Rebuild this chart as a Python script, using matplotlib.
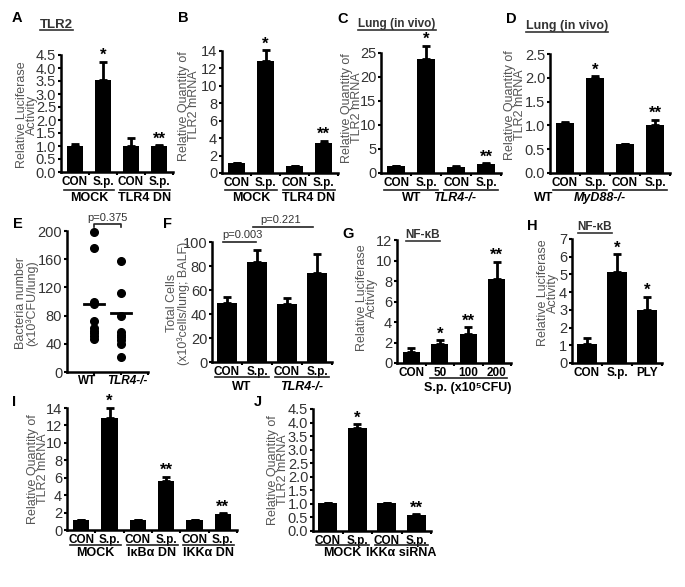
import matplotlib.pyplot as plt
from matplotlib.lines import Line2D
from matplotlib.transforms import blended_transform_factory, offset_copy

plt.rcParams['font.family'] = ['Liberation Sans', 'DejaVu Sans']
plt.rcParams['axes.linewidth'] = 1.8

# ---------------- data ----------------
con_sp = ['CON', 'S.p.', 'CON', 'S.p.']

a_groups = ['MOCK', 'TLR4 DN']
a_vals = [1.0, 3.55, 1.0, 1.0]
a_errs = [0.08, 0.7, 0.3, 0.03]
a_stars = ['', '*', '', '**']

b_groups = ['MOCK', 'TLR4 DN']
b_vals = [1.2, 12.8, 0.8, 3.4]
b_errs = [0.0, 1.3, 0.05, 0.3]
b_stars = ['', '*', '', '**']

c_groups = ['WT', 'TLR4-/-']
c_vals = [1.4, 23.8, 1.3, 1.8]
c_errs = [0.0, 2.7, 0.1, 0.2]
c_stars = ['', '*', '', '**']

d_groups = ['WT', 'MyD88-/-']
d_vals = [1.05, 2.0, 0.6, 1.0]
d_errs = [0.03, 0.03, 0.0, 0.12]
d_stars = ['', '*', '', '**']

e_labels = ['WT', 'TLR4-/-']
e_wt = [198, 176, 100, 97, 72, 62, 58, 55, 51, 47]
e_tlr4 = [158, 112, 80, 57, 53, 50, 46, 40, 21]
e_means = [97, 84]
e_p = 'p=0.375'

f_groups = ['WT', 'TLR4-/-']
f_vals = [49, 83, 48, 74]
f_errs = [5, 10, 5, 16]
f_p = ['p=0.003', 'p=0.221']

g_labels = ['CON', '50', '100', '200']
g_vals = [1.1, 1.9, 2.8, 8.2]
g_errs = [0.4, 0.3, 0.7, 1.7]
g_stars = ['', '*', '**', '**']

h_labels = ['CON', 'S.p.', 'PLY']
h_vals = [1.1, 5.15, 3.0]
h_errs = [0.3, 1.0, 0.75]
h_stars = ['', '*', '*']

i_labels = ['CON', 'S.p.'] * 3
i_groups = ['MOCK', 'IκBα DN', 'IKKα DN']
i_vals = [1.2, 12.8, 1.2, 5.6, 1.2, 1.8]
i_errs = [0.0, 1.25, 0.0, 0.5, 0.0, 0.1]
i_stars = ['', '*', '', '**', '', '**']

j_groups = ['MOCK', 'IKKα siRNA']
j_vals = [1.03, 3.8, 1.03, 0.6]
j_errs = [0.02, 0.15, 0.02, 0.02]
j_stars = ['', '*', '', '**']

# ---------------- figure helpers ----------------
W, H = 685, 587
fig = plt.figure(figsize=(W / 100, H / 100), dpi=100)
titles = []


def panel(l, t, r, b):
    ax = fig.add_axes([l / W, 1 - b / H, (r - l) / W, (b - t) / H])
    for s in ['top', 'right']:
        ax.spines[s].set_visible(False)
    ax.tick_params(axis='y', direction='out', length=2.5, width=1.5, pad=1,
                   labelsize=10.5, labelcolor='#333333')
    ax.tick_params(axis='x', which='major', length=0, pad=3, labelsize=8.5)
    ax.tick_params(axis='x', which='minor', direction='out', length=2.5, width=1.5)
    return ax


def bars(ax, labels, vals, errs, stars, width, yticks, fmt='{:g}'):
    n = len(vals)
    x = [i + 0.5 for i in range(n)]
    bc = ax.bar(x, vals, width=width, color='black')
    for p in bc.patches:
        p.set_clip_on(False)
    eb = ax.errorbar(x, vals, yerr=[[0] * n, errs], fmt='none', ecolor='black',
                     elinewidth=2, capsize=3, capthick=2)
    for art in list(eb.lines[1]) + list(eb.lines[2]):
        art.set_clip_on(False)
    for xi, v, e, s in zip(x, vals, errs, stars):
        if s:
            ax.annotate(s, (xi, v + e), xytext=(0, -1), textcoords='offset points',
                        ha='center', va='bottom', fontsize=12, fontweight='bold',
                        annotation_clip=False)
    ax.set_xlim(0, n)
    ax.set_ylim(yticks[0], yticks[-1])
    ax.set_yticks(yticks, [fmt.format(v) for v in yticks])
    ax.set_xticks(x, labels, fontweight='bold')
    ax.set_xticks(range(1, n + 1), minor=True)
    return x


def groups(ax, names, centers, spans, line_dy, text_dy, italic=False, size=9):
    trans = blended_transform_factory(ax.transData, ax.transAxes)
    lt = offset_copy(trans, fig=fig, y=-line_dy, units='dots')
    tt = offset_copy(trans, fig=fig, y=-text_dy, units='dots')
    for (x0, x1) in spans:
        ax.add_line(Line2D([x0, x1], [0, 0], transform=lt, color='#222222',
                           lw=1.2, clip_on=False))
    for k, (name, c) in enumerate(zip(names, centers)):
        it = italic and k == 1
        ax.text(c, 0, name, transform=tt, ha='center', va='center', fontsize=size,
                fontweight='bold', fontstyle='italic' if it else 'normal')


def letter(x, y, s):
    fig.text(x / W, 1 - y / H, s, ha='center', va='center', fontsize=10.5,
             fontweight='bold')


def ylab(x, y, s, size=9):
    fig.text(x / W, 1 - y / H, s, ha='center', va='center', rotation=90,
             fontsize=size, color='#555555', multialignment='center', linespacing=0.85)


def title(x, y, s, size=9.5):
    t = fig.text(x / W, 1 - y / H, s, ha='center', va='baseline', fontsize=size,
                 fontweight='bold', color='#333333')
    titles.append((t, y))


two_groups = [(0.1, 1.9), (2.1, 3.9)]

# ---------------- A ----------------
ax = panel(61, 55, 173, 172)
bars(ax, con_sp, a_vals, a_errs, a_stars, 0.58, [0, 0.5, 1, 1.5, 2, 2.5, 3, 3.5, 4, 4.5], '{:.1f}')
groups(ax, a_groups, [1, 3], two_groups, 18, 26)
letter(17, 18, 'A')
title(56, 27.5, 'TLR2')
ylab(27, 115, 'Relative Luciferase\nActivity')

# ---------------- B ----------------
ax = panel(222, 51, 338, 173)
bars(ax, con_sp, b_vals, b_errs, b_stars, 0.56, list(range(0, 15, 2)))
groups(ax, b_groups, [1, 3], two_groups, 17, 25)
letter(183, 18, 'B')
ylab(189, 106, 'Relative Quantity of\nTLR2 mRNA')

# ---------------- C ----------------
ax = panel(381, 53, 501, 173)
bars(ax, con_sp, c_vals, c_errs, c_stars, 0.62, list(range(0, 26, 5)))
groups(ax, c_groups, [1.03, 2.47], two_groups, 17, 25, italic=True)
letter(343, 19, 'C')
title(397, 27, 'Lung (in vivo)', 8.5)
ylab(352, 108, 'Relative Quantity of\nTLR2 mRNA')

# ---------------- D ----------------
ax = panel(550, 54, 670, 173)
bars(ax, con_sp, d_vals, d_errs, d_stars, 0.57, [0, 0.5, 1, 1.5, 2, 2.5], '{:.1f}')
groups(ax, d_groups, [-0.2, 1.67], two_groups, 17, 25, italic=True)
letter(511, 19, 'D')
title(567, 29, 'Lung (in vivo)', 9)
ylab(515, 105, 'Relative Quantity of\nTLR2 mRNA')

# ---------------- E ----------------
ax = panel(67, 231, 148, 372)
ax.plot([1] * len(e_wt), e_wt, 'o', color='black', ms=5.5, clip_on=False)
ax.plot([2] * len(e_tlr4), e_tlr4, 'o', color='black', ms=5.5, clip_on=False)
for k, m in enumerate(e_means):
    ax.plot([k + 1 - 0.37, k + 1 + 0.37], [m, m], color='black', lw=2)
ax.set_xlim(0, 3)
ax.set_ylim(0, 200)
ax.set_yticks(range(0, 201, 40))
ax.set_xticks([1, 2], ['', ''])
ax.tick_params(axis='x', which='major', length=2.5, width=1.5, direction='out')
ax.set_xticks([3], minor=True)
et = offset_copy(blended_transform_factory(ax.transData, ax.transAxes), fig=fig,
                 y=-9, units='dots')
ax.text(0.75, 0, e_labels[0], transform=et, ha='center', va='center',
        fontsize=8.5, fontweight='bold')
ax.text(2.25, 0, e_labels[1], transform=et, ha='center', va='center',
        fontsize=8.5, fontweight='bold', fontstyle='italic')
ax.plot([1, 1, 2, 2], [205, 210, 210, 205], color='#222222', lw=1.2, clip_on=False)
ax.text(1.5, 212, e_p, ha='center', va='bottom', fontsize=8, color='#333333')
letter(18, 224, 'E')
ylab(27, 303, 'Bacteria number\n(x10³CFU/lung)')

# ---------------- F ----------------
ax = panel(212, 242, 332, 362)
bars(ax, con_sp, f_vals, f_errs, ['', '', '', ''], 0.66, list(range(0, 101, 20)))
groups(ax, f_groups, [1, 3], two_groups, 15, 25, italic=True)
ax.plot([0.35, 1.45], [100, 100], color='#222222', lw=1.2, clip_on=False)
ax.text(1.02, 101.5, f_p[0], ha='center', va='bottom', fontsize=8, color='#333333')
ax.plot([1.37, 3.37], [112.5, 112.5], color='#222222', lw=1.2, clip_on=False)
ax.text(2.3, 114, f_p[1], ha='center', va='bottom', fontsize=8, color='#333333')
letter(168, 224, 'F')
ylab(178, 303, 'Total Cells\n(x10³cells/lung; BALF)')

# ---------------- G ----------------
ax = panel(397, 240, 511, 363)
bars(ax, g_labels, g_vals, g_errs, g_stars, 0.6, list(range(0, 13, 2)))
groups(ax, ['', 'S.p. (x10⁵CFU)'], [0, 2.5], [(1.15, 3.85)], 15, 25)
letter(348, 234, 'G')
title(423, 238, 'NF-κB', 8.5)
ylab(367, 298, 'Relative Luciferase\nActivity')

# ---------------- H ----------------
ax = panel(572, 239, 662, 363)
bars(ax, h_labels, h_vals, h_errs, h_stars, 0.65, list(range(0, 8)))
letter(532, 226, 'H')
title(595, 230, 'NF-κB', 8.5)
ylab(548, 293, 'Relative Luciferase\nActivity')

# ---------------- I ----------------
ax = panel(67, 408, 237, 530)
bars(ax, i_labels, i_vals, i_errs, i_stars, 0.57, list(range(0, 15, 2)))
groups(ax, i_groups, [1, 3, 5], [(0.1, 1.9), (2.1, 3.9), (4.1, 5.9)], 15, 23)
letter(14, 402, 'I')
ylab(38, 469, 'Relative Quantity of\nTLR2 mRNA')

# ---------------- J ----------------
ax = panel(313, 409, 431, 531)
bars(ax, con_sp, j_vals, j_errs, j_stars, 0.65, [0, 0.5, 1, 1.5, 2, 2.5, 3, 3.5, 4, 4.5], '{:.1f}')
groups(ax, j_groups, [1, 3], two_groups, 14, 22)
letter(258, 402, 'J')
ylab(278, 470, 'Relative Quantity of\nTLR2 mRNA')

# underline the small panel titles
fig.canvas.draw()
for t, ypx in titles:
    bb = t.get_window_extent()
    yb = 1 - (ypx + 2.5) / H
    fig.add_artist(Line2D([bb.x0 / W, bb.x1 / W], [yb, yb], transform=fig.transFigure,
                          color='#333333', lw=1.2))

fig.savefig('out.png', dpi=100)
